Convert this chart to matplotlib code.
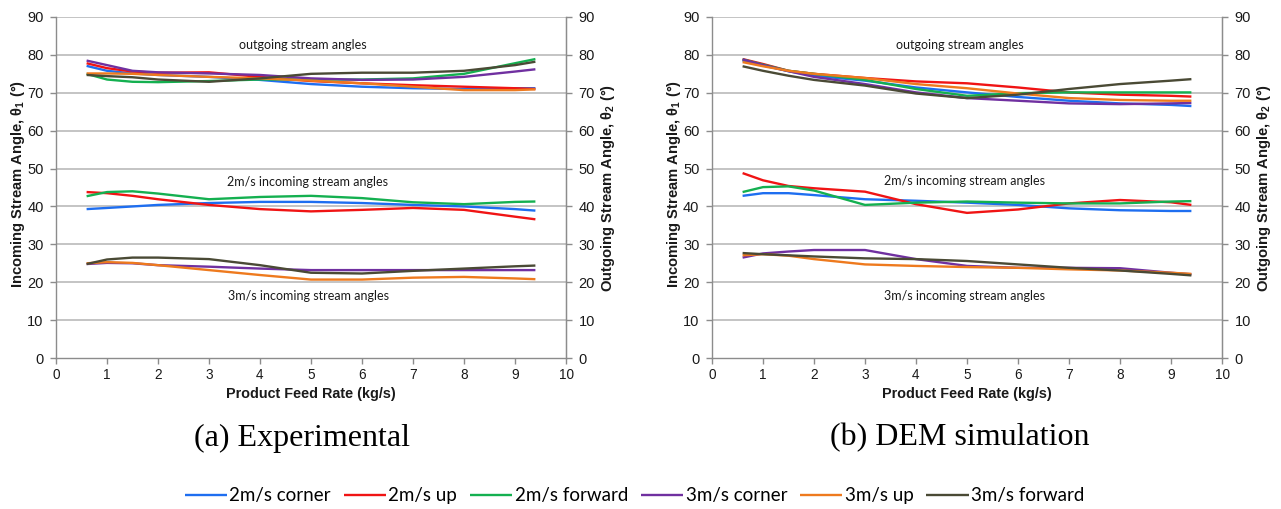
import matplotlib
matplotlib.use("Agg")
import matplotlib.pyplot as plt

plt.rcParams['mathtext.fontset'] = 'custom'
plt.rcParams['mathtext.rm'] = 'Liberation Sans:bold'
plt.rcParams['mathtext.it'] = 'Liberation Sans:bold'
plt.rcParams['mathtext.bf'] = 'Liberation Sans:bold'

# ---------------- data ----------------
feed_rate = [0.6, 1.0, 1.5, 2.0, 3.0, 4.0, 5.0, 6.0, 7.0, 8.0, 9.0, 9.4]

series_names = ["2m/s corner", "2m/s up", "2m/s forward",
                "3m/s corner", "3m/s up", "3m/s forward"]
series_colors = ["#1E6EF0", "#F01414", "#14B050", "#7030A0", "#EE7A1E", "#4A4A35"]

# (a) Experimental - incoming angles
exp_in_2_corner = [39.3, 39.6, 40.0, 40.4, 40.9, 41.2, 41.2, 40.9, 40.4, 40.0, 39.3, 38.9]
exp_in_2_up = [43.8, 43.5, 42.8, 41.9, 40.4, 39.3, 38.7, 39.1, 39.6, 39.1, 37.3, 36.6]
exp_in_2_forward = [42.7, 43.8, 44.0, 43.4, 41.9, 42.5, 42.8, 42.2, 41.1, 40.6, 41.2, 41.3]
exp_in_3_corner = [24.8, 25.1, 25.0, 24.5, 24.1, 23.6, 23.2, 23.2, 23.2, 23.2, 23.2, 23.2]
exp_in_3_up = [25.0, 25.3, 25.1, 24.5, 23.2, 21.9, 20.7, 20.7, 21.2, 21.4, 21.0, 20.8]
exp_in_3_forward = [24.8, 26.0, 26.5, 26.5, 26.1, 24.5, 22.5, 22.3, 23.0, 23.6, 24.2, 24.4]
# (a) Experimental - outgoing angles
exp_out_2_corner = [77.1, 75.8, 75.1, 74.7, 74.2, 73.4, 72.3, 71.6, 71.2, 71.0, 71.2, 71.2]
exp_out_2_up = [77.8, 76.5, 75.6, 75.3, 75.4, 74.2, 73.1, 72.5, 72.0, 71.6, 71.2, 71.0]
exp_out_2_forward = [75.0, 73.5, 72.9, 72.8, 73.1, 73.5, 73.5, 73.5, 73.8, 75.0, 77.8, 78.9]
exp_out_3_corner = [78.5, 77.3, 75.8, 75.4, 75.1, 74.7, 73.8, 73.4, 73.5, 74.2, 75.6, 76.2]
exp_out_3_up = [75.1, 75.1, 75.0, 74.7, 74.2, 73.8, 73.2, 72.5, 71.6, 70.7, 70.7, 70.9]
exp_out_3_forward = [74.7, 74.4, 74.1, 73.5, 72.9, 73.8, 75.0, 75.3, 75.3, 75.8, 77.3, 78.2]

# (b) DEM simulation - incoming angles
dem_in_2_corner = [42.8, 43.5, 43.5, 43.0, 41.9, 41.5, 41.0, 40.4, 39.5, 39.0, 38.8, 38.8]
dem_in_2_up = [48.8, 46.9, 45.4, 44.8, 43.9, 40.6, 38.3, 39.2, 40.8, 41.7, 41.1, 40.4]
dem_in_2_forward = [43.8, 45.1, 45.3, 44.2, 40.4, 41.0, 41.3, 41.0, 40.8, 40.8, 41.3, 41.4]
dem_in_3_corner = [26.5, 27.6, 28.1, 28.5, 28.5, 26.1, 24.3, 23.8, 23.8, 23.7, 22.5, 22.1]
dem_in_3_up = [27.1, 27.4, 27.0, 26.1, 24.7, 24.3, 24.0, 23.8, 23.4, 23.1, 22.5, 22.2]
dem_in_3_forward = [27.7, 27.4, 27.1, 26.8, 26.3, 26.1, 25.6, 24.7, 23.8, 23.1, 22.2, 21.8]
# (b) DEM simulation - outgoing angles
dem_out_2_corner = [78.5, 77.2, 75.7, 74.5, 73.2, 71.4, 70.1, 68.9, 67.9, 67.2, 66.8, 66.5]
dem_out_2_up = [78.9, 77.6, 75.8, 75.0, 73.9, 73.0, 72.5, 71.4, 70.1, 69.5, 69.2, 69.0]
dem_out_2_forward = [78.8, 77.4, 75.8, 75.0, 73.4, 71.0, 69.2, 69.9, 70.1, 70.1, 70.1, 70.1]
dem_out_3_corner = [78.8, 77.3, 75.7, 74.2, 72.3, 70.1, 68.6, 67.9, 67.2, 67.0, 67.2, 67.3]
dem_out_3_up = [78.1, 77.0, 75.8, 75.0, 73.9, 72.3, 71.2, 69.8, 68.6, 68.1, 67.9, 67.9]
dem_out_3_forward = [77.0, 75.8, 74.5, 73.4, 71.9, 69.8, 68.6, 69.5, 71.0, 72.3, 73.2, 73.6]

exp_in = [exp_in_2_corner, exp_in_2_up, exp_in_2_forward, exp_in_3_corner, exp_in_3_up, exp_in_3_forward]
exp_out = [exp_out_2_corner, exp_out_2_up, exp_out_2_forward, exp_out_3_corner, exp_out_3_up, exp_out_3_forward]
dem_in = [dem_in_2_corner, dem_in_2_up, dem_in_2_forward, dem_in_3_corner, dem_in_3_up, dem_in_3_forward]
dem_out = [dem_out_2_corner, dem_out_2_up, dem_out_2_forward, dem_out_3_corner, dem_out_3_up, dem_out_3_forward]

x_ticks = list(range(0, 11))
y_ticks = list(range(0, 100, 10))
captions = ["(a) Experimental", "(b) DEM simulation"]
xlabel = "Product Feed Rate (kg/s)"
ylabel_left = r"Incoming Stream Angle, $\theta_1$ (°)"
ylabel_right = r"Outgoing Stream Angle, $\theta_2$ (°)"
annotations = ["outgoing stream angles", "2m/s incoming stream angles", "3m/s incoming stream angles"]

# ---------------- figure ----------------
W, H = 1281, 509
fig = plt.figure(figsize=(W / 100, H / 100), dpi=100)

SANS = "Liberation Sans"
ANN = "Lato"
axis_grey = "#8C8C8C"
grid_grey = "#C4C4C4"
text_col = "#1A1A1A"

panels = [
    (56, 566, exp_in, exp_out, captions[0], 302, [(4.83, 82.7), (4.93, 46.5), (4.95, 16.4)]),
    (712, 1222, dem_in, dem_out, captions[1], 960, [(4.85, 82.7), (4.95, 46.7), (4.95, 16.4)]),
]
top_px, bot_px = 17, 358

lines_for_legend = []
for left_px, right_px, d_in, d_out, cap, cap_x, ann_pos in panels:
    ax = fig.add_axes([left_px / W, (H - bot_px) / H, (right_px - left_px) / W, (bot_px - top_px) / H])
    ax.set_xlim(0, 10)
    ax.set_ylim(0, 90)
    for yv in y_ticks[1:]:
        ax.axhline(yv, color=grid_grey, lw=1.4, zorder=0)
    handles = []
    for i in range(6):
        ax.plot(feed_rate, d_out[i], color=series_colors[i], lw=1.7, zorder=3,
                solid_joinstyle='round', solid_capstyle='butt')
        h, = ax.plot(feed_rate, d_in[i], color=series_colors[i], lw=1.7, zorder=3,
                     solid_joinstyle='round', solid_capstyle='butt', label=series_names[i])
        handles.append(h)
    lines_for_legend = handles
    ax.spines["top"].set_visible(False)
    for s in ["left", "right", "bottom"]:
        ax.spines[s].set_color(axis_grey)
        ax.spines[s].set_linewidth(1.0)
    ax.set_xticks(x_ticks)
    ax.set_yticks(y_ticks)
    ax.tick_params(axis='x', colors=axis_grey, labelcolor=text_col, labelsize=9.8,
                   length=4, width=1.0, direction='out', pad=3)
    ax.tick_params(axis='y', colors=axis_grey, labelcolor=text_col, labelsize=10.5,
                   length=4, width=1.0, direction='out', pad=5)
    for lab in ax.get_xticklabels() + ax.get_yticklabels():
        lab.set_fontfamily(SANS)
    ax.set_xlabel(xlabel, fontfamily=SANS, fontweight='bold', fontsize=10.4, color=text_col)
    ax.xaxis.set_label_coords(0.5, -0.086)
    ax.set_ylabel(ylabel_left, fontfamily=SANS, fontweight='bold', fontsize=10.6, color=text_col,
                  va='center')
    ax.yaxis.set_label_coords(-0.075, 0.51)

    ax2 = ax.twinx()
    ax2.set_ylim(0, 90)
    ax2.set_yticks(y_ticks)
    for s in ["top", "left", "bottom"]:
        ax2.spines[s].set_visible(False)
    ax2.spines["right"].set_color(axis_grey)
    ax2.tick_params(axis='y', colors=axis_grey, labelcolor=text_col, labelsize=10.5,
                    length=4, width=1.0, direction='out', pad=5)
    for lab in ax2.get_yticklabels():
        lab.set_fontfamily(SANS)
    ax2.set_ylabel(ylabel_right, fontfamily=SANS, fontweight='bold', fontsize=10.6, color=text_col,
                   va='center', rotation=90)
    ax2.yaxis.set_label_coords(1.082, 0.50)

    for txt, (xa, ya) in zip(annotations, ann_pos):
        ax.text(xa, ya, txt, ha='center', va='center', fontfamily=ANN, fontsize=9.0, color=text_col)

    fig.text(cap_x / W, (H - 438) / H, cap, ha='center', va='center',
             fontfamily="Liberation Serif", fontsize=23, color='black')

fig.legend(handles=lines_for_legend, labels=series_names, loc='center',
           bbox_to_anchor=(634.5 / W, (H - 496) / H), ncol=6, frameon=False,
           prop={'family': ANN, 'size': 13.5}, handlelength=2.25, handletextpad=0.12,
           columnspacing=0.7)

fig.savefig("out.png", dpi=100)
